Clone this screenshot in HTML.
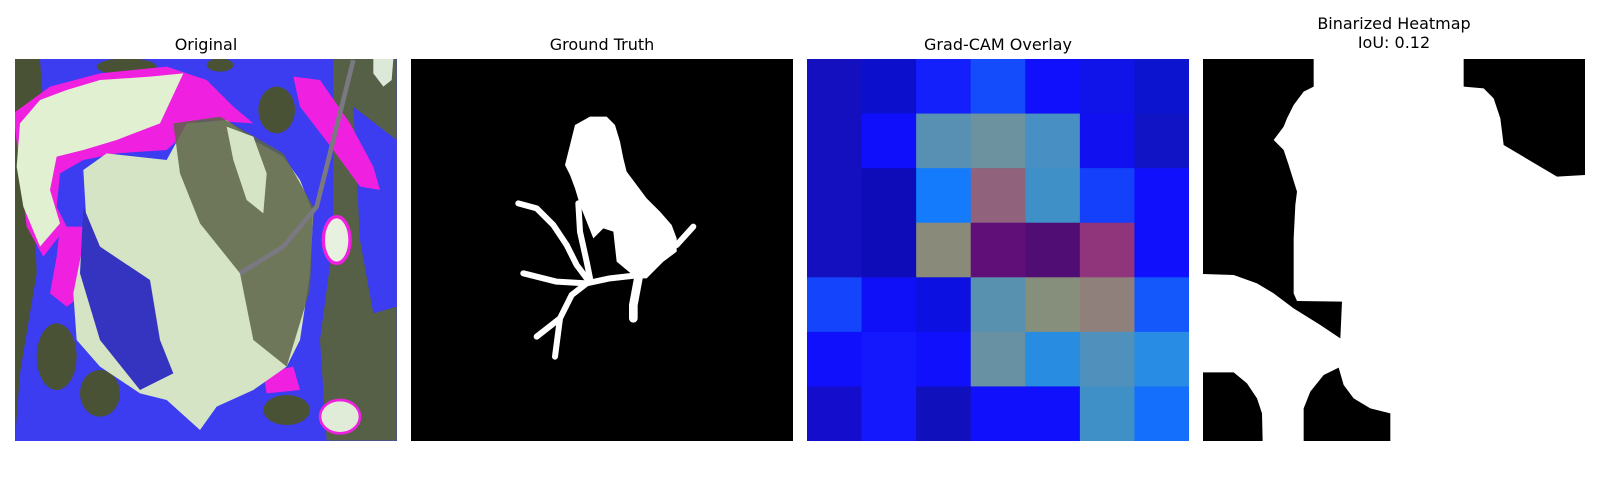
<!DOCTYPE html>
<html><head><meta charset="utf-8"><style>
html,body{margin:0;padding:0;background:#fff;width:1600px;height:500px;overflow:hidden}
.t{position:absolute;font-family:"DejaVu Sans","Liberation Sans",sans-serif;font-size:16px;color:#000;text-align:center;width:382px;line-height:19px}
svg{position:absolute;top:59px}
</style></head><body>
<div class="t" style="left:15px;top:35px">Original</div>
<div class="t" style="left:411px;top:35px">Ground Truth</div>
<div class="t" style="left:807px;top:35px">Grad-CAM Overlay</div>
<div class="t" style="left:1203px;top:14px">Binarized Heatmap<br>IoU: 0.12</div>

<svg style="left:15px" width="382" height="382" viewBox="0 0 382 382">
<rect width="382" height="382" fill="#3c3cf0"/>
<g transform="translate(-15,-19) scale(0.33333)">
<path d="M45,57 L120,57 L130,200 L100,400 L110,700 L60,1000 L45,1202Z" fill="#4a5236"/>
<path d="M1000,57 L1190,57 L1190,1202 L980,1202 L960,900 L1000,600Z" fill="#566046"/>
<path d="M1060,200 L1190,300 L1190,800 L1120,820 L1080,600Z" fill="#3c3cf0"/>
<path d="M1120,57 L1180,57 L1175,120 L1150,140 L1120,100Z" fill="#dce8d8"/>
<ellipse cx="830" cy="210" rx="55" ry="70" fill="#4a5236"/>
<ellipse cx="300" cy="1060" rx="60" ry="70" fill="#4a5236"/>
<ellipse cx="860" cy="1110" rx="70" ry="45" fill="#4a5236"/>
<ellipse cx="380" cy="80" rx="90" ry="25" fill="#4a5236"/>
<ellipse cx="660" cy="75" rx="40" ry="20" fill="#4a5236"/>
<ellipse cx="170" cy="950" rx="60" ry="100" fill="#4a5236"/>
<ellipse cx="1010" cy="600" rx="40" ry="70" fill="#e8f0e0" stroke="#f020e0" stroke-width="10"/>
<ellipse cx="1020" cy="1130" rx="60" ry="50" fill="#e0ecd8" stroke="#f020e0" stroke-width="8"/>
<path d="M40,220 L150,140 L300,100 L500,80 L620,120 L700,200 L760,250 L600,240 L500,330 L350,340 L250,360 L180,400 L170,500 L200,560 L130,650 L80,560Z" fill="#f020e0"/>
<path d="M180,560 L260,560 L270,750 L200,800 L150,760 L170,650Z" fill="#f020e0"/>
<path d="M880,110 L960,120 L1050,250 L1120,380 L1140,450 L1080,440 L1000,330 L900,200Z" fill="#f020e0"/>
<path d="M790,1000 L880,980 L900,1050 L800,1060Z" fill="#f020e0"/>
<path d="M60,250 L120,180 L200,150 L300,120 L450,110 L550,100 L480,250 L350,300 L250,330 L170,350 L150,450 L180,550 L120,620 L70,500 L50,380Z" fill="#e0f0d0"/>
<path d="M250,390 L320,340 L500,360 L560,250 L680,240 L760,300 L850,350 L900,420 L940,520 L930,700 L900,900 L860,980 L760,1050 L650,1100 L600,1170 L500,1080 L420,1060 L300,980 L230,900 L220,760 L260,560Z" fill="#d4e4c4"/>
<path d="M520,250 L660,230 L850,340 L940,500 L930,750 L860,980 L760,900 L720,700 L600,550 L540,400Z" fill="#5c6448" opacity="0.85"/>
<path d="M680,260 L760,290 L800,400 L790,520 L740,480 L700,360Z" fill="#d4e4c4"/>
<path d="M250,500 L300,620 L450,720 L480,900 L520,1000 L420,1050 L300,900 L240,700Z" fill="#3434c0"/>
<path d="M1060,60 L1000,300 L950,500 L850,620 L720,700" fill="none" stroke="#7a7880" stroke-width="14"/>
</g></svg>

<svg style="left:411px" width="382" height="382" viewBox="0 0 382 382">
<rect width="382" height="382" fill="#000"/>
<g transform="translate(79,46) scale(0.33333)" fill="#fff" stroke="#fff" stroke-linecap="round" stroke-linejoin="round">
<path stroke="none" d="M300,35 L350,35 L375,60 L390,110 L400,160 L410,200 L440,240 L470,280 L510,320 L545,360 L560,400 L560,440 L520,470 L490,500 L470,520 L440,520 L380,470 L370,380 L340,370 L310,400 L290,350 L270,300 L255,250 L240,210 L225,180 L240,120 L255,60Z"/>
<g fill="none" stroke-width="18">
<path d="M85,295 L140,310 L190,360 L230,420 L260,480 L290,520"/>
<path d="M100,505 L200,530 L290,535 L360,520 L450,510"/>
<path d="M290,535 L245,570 L210,640 L140,695"/>
<path d="M210,640 L195,755"/>
<path d="M265,295 L270,380 L290,470 L300,520"/>
<path d="M610,365 L560,420"/>
<path stroke-width="26" d="M445,520 L430,600 L430,640"/>
</g></g></svg>

<svg id="cam" style="left:807px" width="382" height="382" viewBox="0 0 382 382"></svg>

<svg style="left:1203px" width="382" height="382" viewBox="0 0 382 382">
<rect width="382" height="382" fill="#fff"/>
<g transform="translate(-26,-4) scale(0.33333)" fill="#000">
<path d="M78,12 L410,12 L410,95 L380,110 L350,150 L330,190 L320,215 L290,255 L320,285 L335,330 L360,410 L355,450 L350,550 L350,715 L360,738 L495,740 L490,850 L430,810 L350,760 L290,715 L240,685 L170,660 L78,657Z"/>
<path d="M860,12 L1250,12 L1250,360 L1225,360 L1140,365 L980,270 L970,190 L950,130 L920,100 L860,95Z"/>
<path d="M78,952 L170,952 L210,985 L240,1030 L255,1075 L257,1160 L78,1160Z"/>
<path d="M380,1160 L380,1060 L400,1010 L440,960 L485,938 L500,990 L530,1030 L580,1060 L640,1075 L640,1160Z"/>
</g></svg>

<script>
const camRows = [0,1,2,3,4,5,6];
const camCols = [0,1,2,3,4,5,6];
const camColors = [
 ["#1410c0","#0c10cc","#1420fc","#144cfc","#1010fc","#1014e8","#0c14d0"],
 ["#1410c0","#100ffc","#5890b4","#6c92a0","#4890c4","#1010f0","#1014c4"],
 ["#1410c0","#0e0cb8","#147cfc","#90627c","#4090c8","#1440fc","#1010fc"],
 ["#1410c0","#0e0cb8","#8a8a7a","#600e78","#500e74","#90347c","#1010fc"],
 ["#1444fc","#1010f8","#0c10e0","#5890b0","#868e7c","#90807c","#1458fc"],
 ["#1010fc","#1418fc","#1010fc","#6892a4","#288ce0","#5090bc","#288ce4"],
 ["#140ecc","#1418fc","#1010bc","#1010fc","#1010fc","#4090c8","#1470fc"]
];
const svg = document.getElementById('cam');
const size = 382, n = camCols.length, cw = size / n;
const xs = c => c * cw, ys = r => r * (size / camRows.length);
camRows.forEach(r => camCols.forEach(c => {
  const el = document.createElementNS('http://www.w3.org/2000/svg','rect');
  el.setAttribute('x', xs(c)); el.setAttribute('y', ys(r));
  el.setAttribute('width', cw + 0.5); el.setAttribute('height', size / camRows.length + 0.5);
  el.setAttribute('fill', camColors[r][c]);
  
  
  svg.appendChild(el);
}));
</script>
</body></html>
